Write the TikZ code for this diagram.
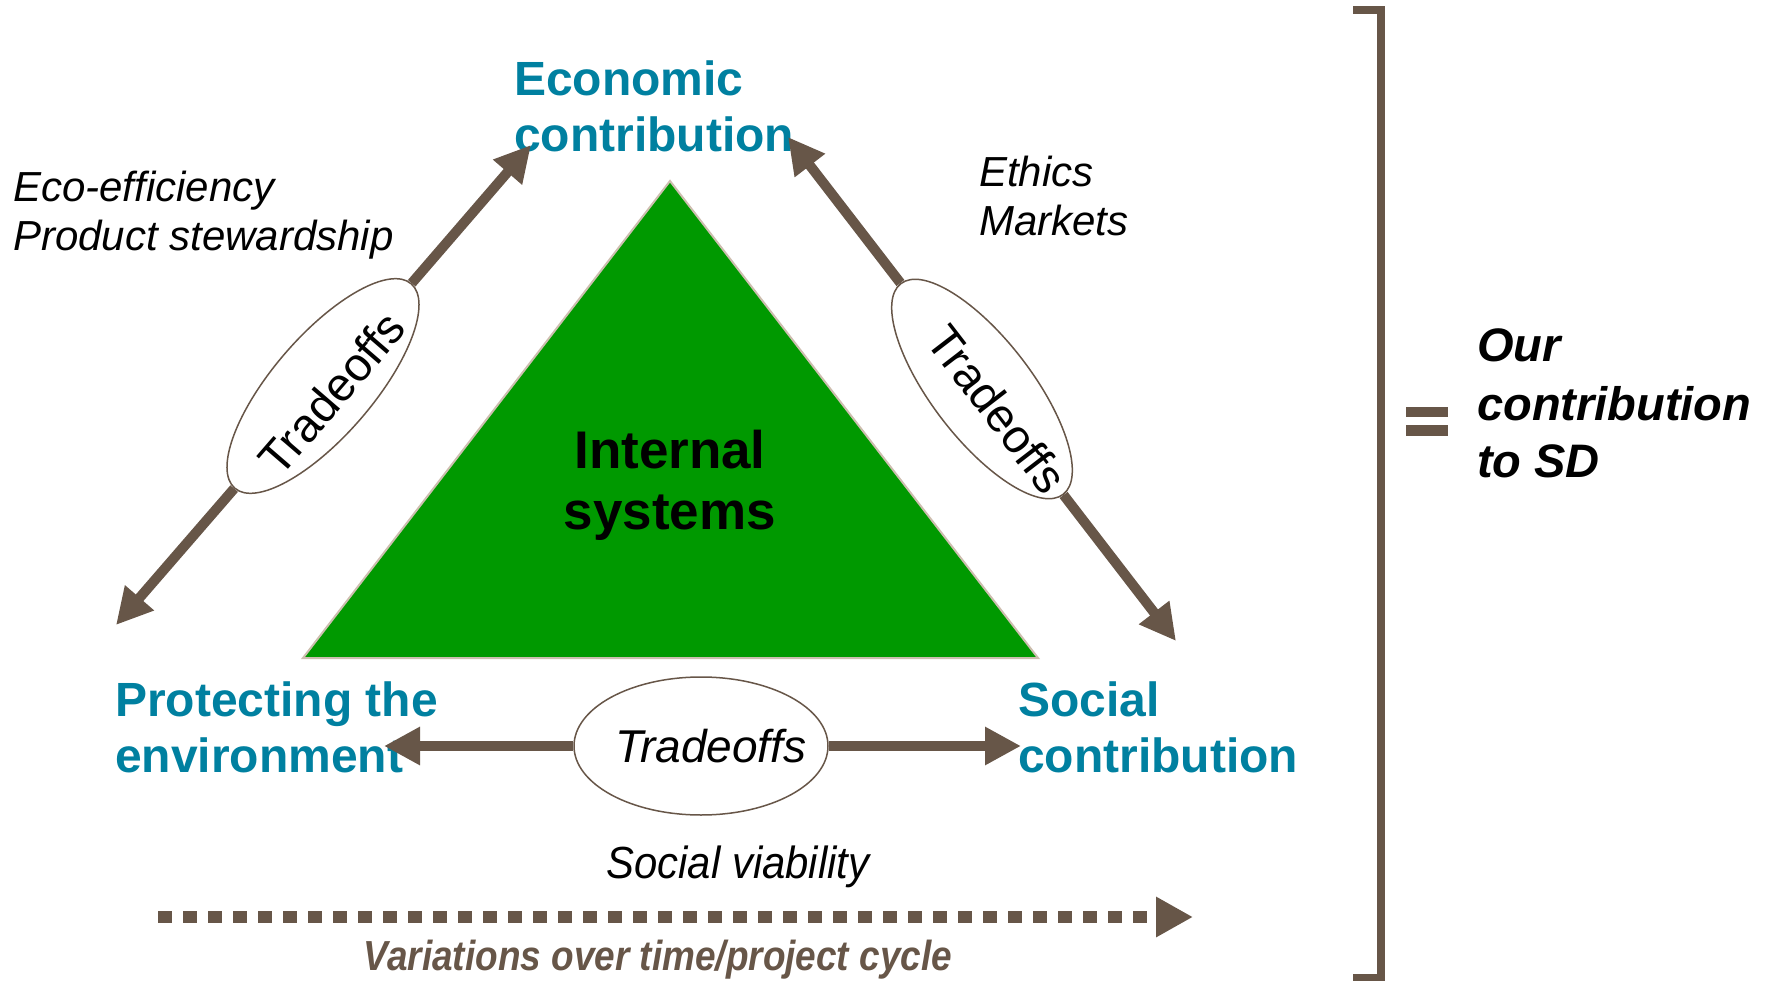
\documentclass[tikz,border=0pt]{standalone}
\usepackage{fontspec}
\setmainfont{Liberation Sans}
\newfontfamily\svfont[FakeStretch=0.93]{Liberation Sans}
\newfontfamily\varfont[FakeStretch=0.88]{Liberation Sans}
\usetikzlibrary{arrows.meta,shapes.geometric}
\definecolor{brn}{RGB}{103,86,72}
\definecolor{blu}{RGB}{0,128,160}
\definecolor{grn}{RGB}{0,153,0}
\definecolor{edgec}{RGB}{205,190,175}
\begin{document}
\begin{tikzpicture}[x=1pt,y=-1pt,
  arr/.style={draw=brn,line width=10pt,-{Triangle[length=36pt,width=36pt]}},
  ell/.style={ellipse,draw=brn,line width=1.5pt,fill=white,inner sep=0pt},
  head/.style={text=blu,font=\bfseries\fontsize{48}{56}\selectfont,align=left,anchor=base west,inner sep=0pt},
  note/.style={font=\itshape\fontsize{42}{49.5}\selectfont,align=left,anchor=base west,inner sep=0pt},
  tradeoff/.style={font=\fontsize{47}{50}\selectfont},
]
\useasboundingbox (0,0) rectangle (1773,981);

% central triangle
\draw[fill=grn,draw=edgec,line width=2pt] (670,181) -- (303,658) -- (1038,658) -- cycle;
\node[font=\bfseries\fontsize{53}{61}\selectfont,align=center,anchor=base,inner sep=0pt] (int) at (670,529) {Internal\\systems};

% corner labels (anchor = baseline of last line)
\node[head] (eco) at (514,152) {Economic\\contribution};
\node[head] (env) at (115,772) {Protecting the\\environment};
\node[head] (soc) at (1018,772) {Social\\contribution};

% side notes
\node[note] (effn) at (13,251) {Eco-efficiency\\Product stewardship};
\node[note] (eth) at (979,236) {Ethics\\Markets};
\node[font=\svfont\itshape\fontsize{45}{50}\selectfont,anchor=base,inner sep=0pt] (sv) at (738,878) {Social viability};

% tradeoff ellipses
\node[ell,tradeoff,text height=56pt,text depth=0pt,minimum width=270pt,minimum height=100pt,rotate=49.2] (eL) at (323,386) {\makebox[0pt]{Tradeoffs}};
\node[ell,tradeoff,minimum width=266pt,minimum height=100pt,rotate=-52.4] (eR) at (982,389) {\makebox[0pt]{\hspace{50pt}Tradeoffs}};
\node[ell,font=\fontsize{46}{50}\selectfont,minimum width=254pt,minimum height=138pt] (eB) at (701,746) {\makebox[0pt]{\itshape\hspace{20pt}Tradeoffs}};

% arrow tips
\coordinate (tEco1) at (531,145);
\coordinate (tEnv1) at (116,625);
\coordinate (tEco2) at (788,137);
\coordinate (tSoc1) at (1176,641);
\coordinate (tEnv2) at (384,746);
\coordinate (tSoc2) at (1021,746);

\draw[arr] (eL) -- (tEco1);
\draw[arr] (eL) -- (tEnv1);
\draw[arr] (eR) -- (tEco2);
\draw[arr] (eR) -- (tSoc1);
\draw[arr] (eB) -- (tEnv2);
\draw[arr] (eB) -- (tSoc2);

% time arrow
\coordinate (dS) at (158,917);
\coordinate (dE) at (1193,917);
\draw[draw=brn,line width=12pt,dash pattern=on 14pt off 11pt,-{Triangle[length=37pt,width=38pt]}] (dS) -- (dE);
\node[text=brn,font=\varfont\bfseries\itshape\fontsize{42}{48}\selectfont,anchor=base,inner sep=0pt] (var) at (658,970) {Variations over time/project cycle};

% bracket and result
\draw[brn,line width=8pt] (1353,10) -- (1381,10) -- (1381,978) -- (1353,978);
\fill[brn] (1406,407) rectangle (1448,417);
\fill[brn] (1406,425) rectangle (1448,436);
\node[font=\bfseries\itshape\fontsize{47}{58}\selectfont,align=left,anchor=base west,inner sep=0pt] (our) at (1477,478) {Our\\contribution\\to SD};
\end{tikzpicture}
\end{document}
